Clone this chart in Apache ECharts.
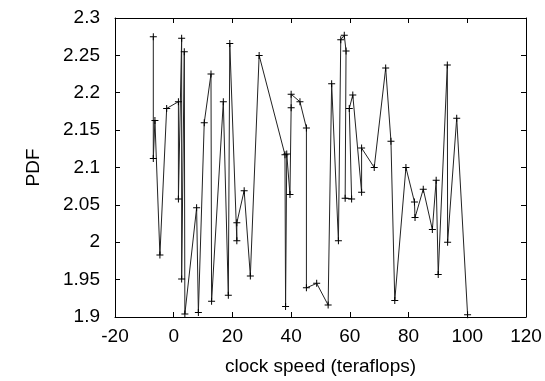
<!DOCTYPE html>
<html>
<head>
<meta charset="utf-8">
<script src="https://cdn.jsdelivr.net/npm/echarts@6/dist/echarts.min.js"></script>
<style>
html,body{margin:0;padding:0;background:#fff;}
#chart{width:545px;height:381px;}
</style>
</head>
<body>
<div id="chart"></div>
<script>
// Data (in drawing order)
var clockSpeed = [-6.95, -6.95, -6.4, -4.7, -2.4, 1.6, 1.6, 2.7, 2.7, 3.6, 3.8, 7.8, 8.4, 10.4, 12.7, 12.9, 16.9, 18.6, 19.1, 21.5, 21.5, 24.0, 26.1, 29.1, 37.9, 38.1, 38.5, 39.6, 40.0, 40.0, 43.0, 45.2, 45.2, 48.7, 52.6, 53.8, 56.1, 56.9, 58.1, 58.7, 58.4, 60.6, 59.8, 61.0, 64.0, 64.0, 68.3, 72.2, 74.0, 75.3, 79.1, 82.0, 82.2, 85.0, 88.1, 89.4, 90.1, 93.2, 93.3, 96.4, 100.1];
var pdfValues = [2.275, 2.112, 2.163, 1.983, 2.179, 2.188, 2.058, 2.273, 1.951, 2.255, 1.904, 2.046, 1.906, 2.160, 2.225, 1.921, 2.188, 1.929, 2.266, 2.002, 2.026, 2.069, 1.955, 2.250, 2.117, 1.914, 2.118, 2.064, 2.180, 2.198, 2.188, 2.153, 1.939, 1.945, 1.916, 2.212, 2.002, 2.271, 2.277, 2.256, 2.059, 2.058, 2.179, 2.197, 2.067, 2.126, 2.100, 2.233, 2.135, 1.922, 2.100, 2.054, 2.033, 2.071, 2.017, 2.083, 1.957, 2.237, 2.000, 2.166, 1.903];
var xTicks = [-20, 0, 20, 40, 60, 80, 100, 120];
var yTicks = [1.9, 1.95, 2, 2.05, 2.1, 2.15, 2.2, 2.25, 2.3];
var xTitle = 'clock speed (teraflops)';
var yTitle = 'PDF';

var points = clockSpeed.map(function (x, i) { return [x, pdfValues[i]]; });
var FONT = 'Liberation Sans, Arial, Helvetica, sans-serif';
var plusSymbol = 'path://M3,0h1v3h3v1h-3v3h-1v-3h-3v-1h3z';

var chart = echarts.init(document.getElementById('chart'), null, {renderer: 'canvas'});
var xMin = xTicks[0], xMax = xTicks[xTicks.length - 1];
var yMin = yTicks[0], yMax = yTicks[yTicks.length - 1];

function baseX(pos, labels) {
  return {
    type: 'value', position: pos, min: xMin, max: xMax, interval: 20,
    axisLine: {show: true, onZero: false, lineStyle: {color: '#000', width: 1}},
    axisTick: {show: true, inside: true, length: 5, lineStyle: {color: '#000'}},
    axisLabel: {show: labels, color: '#000', fontFamily: FONT, fontSize: 19, margin: 10},
    splitLine: {show: false}
  };
}
function baseY(pos, labels) {
  return {
    type: 'value', position: pos, min: yMin, max: yMax, interval: 0.05,
    axisLine: {show: true, onZero: false, lineStyle: {color: '#000', width: 1}},
    axisTick: {show: true, inside: true, length: 5, lineStyle: {color: '#000'}},
    axisLabel: {show: labels, color: '#000', fontFamily: FONT, fontSize: 19, margin: 15,
      formatter: function (v) { return String(parseFloat(v.toFixed(2))); }},
    splitLine: {show: false}
  };
}
var xb = baseX('bottom', true);
xb.name = xTitle; xb.nameLocation = 'middle'; xb.nameGap = 40;
xb.nameTextStyle = {color: '#000', fontFamily: FONT, fontSize: 19};
var yl = baseY('left', true);
yl.name = yTitle; yl.nameLocation = 'middle'; yl.nameGap = 72; yl.nameRotate = 90;
yl.nameTextStyle = {color: '#000', fontFamily: FONT, fontSize: 19};

chart.setOption({
  animation: false,
  backgroundColor: '#fff',
  grid: {left: 115, right: 19, top: 18, bottom: 61, containLabel: false},
  xAxis: [xb, baseX('top', false)],
  yAxis: [yl, baseY('right', false)],
  series: [{
    type: 'line',
    xAxisIndex: 0, yAxisIndex: 0,
    data: points,
    symbol: plusSymbol,
    symbolSize: 7,
    showSymbol: true,
    itemStyle: {color: '#000'},
    lineStyle: {color: '#222', width: 1},
    z: 3
  }]
});
</script>
</body>
</html>
